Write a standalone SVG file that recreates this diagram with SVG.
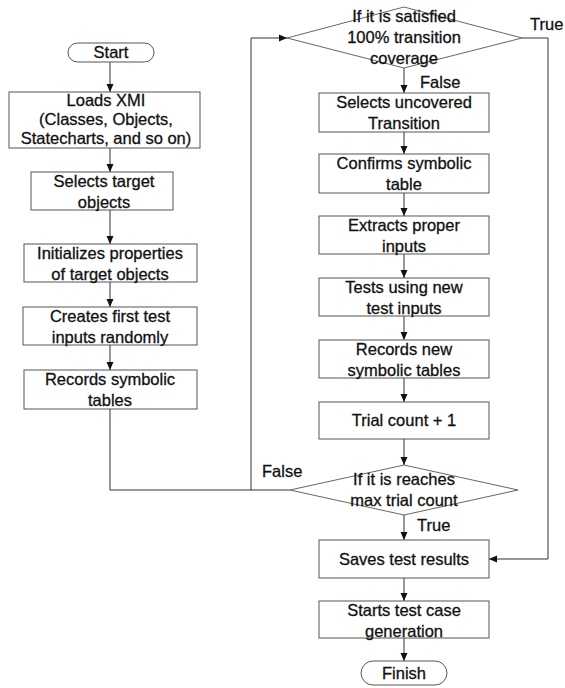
<svg xmlns="http://www.w3.org/2000/svg" width="565" height="688" viewBox="0 0 565 688">
<style>
text{font-family:"Liberation Sans",Arial,sans-serif;font-size:16.5px;fill:#111;stroke:#111;stroke-width:0.3;text-anchor:middle}
.lbl{text-anchor:start}
.box{fill:#fff;stroke:#555;stroke-width:1}
.dia{fill:#fff;stroke:#666;stroke-width:1}
.con{fill:none;stroke:#333;stroke-width:1}
</style>
<defs>
<marker id="arr" markerUnits="userSpaceOnUse" markerWidth="8" markerHeight="8" refX="8" refY="4" orient="auto">
<path d="M0,0.5 L8,4 L0,7.5 z" fill="#111"/>
</marker>
</defs>
<rect width="565" height="688" fill="#fff"/>
<g id="connectors">
<path class="con" d="M110,62 V92" marker-end="url(#arr)"/>
<path class="con" d="M110,148 V172" marker-end="url(#arr)"/>
<path class="con" d="M110,210 V244" marker-end="url(#arr)"/>
<path class="con" d="M110,282 V307" marker-end="url(#arr)"/>
<path class="con" d="M110,345 V370" marker-end="url(#arr)"/>
<path class="con" d="M110,409 V490 H290"/>
<path class="con" d="M251,490 V38 H287" marker-end="url(#arr)"/>
<path class="con" d="M404,68 V93" marker-end="url(#arr)"/>
<path class="con" d="M404,132 V154" marker-end="url(#arr)"/>
<path class="con" d="M404,193 V216" marker-end="url(#arr)"/>
<path class="con" d="M404,254 V278" marker-end="url(#arr)"/>
<path class="con" d="M404,316 V340" marker-end="url(#arr)"/>
<path class="con" d="M404,378 V402" marker-end="url(#arr)"/>
<path class="con" d="M404,439 V465" marker-end="url(#arr)"/>
<path class="con" d="M404,515 V540" marker-end="url(#arr)"/>
<path class="con" d="M404,578 V601" marker-end="url(#arr)"/>
<path class="con" d="M404,638 V661" marker-end="url(#arr)"/>
<path class="con" d="M522,38 H548 V559 H489" marker-end="url(#arr)"/>
<text class="lbl" x="530" y="30">True</text>
<text class="lbl" x="420" y="88">False</text>
<text class="lbl" x="262" y="477">False</text>
<text class="lbl" x="417" y="531">True</text>
</g>
<g id="start"><rect class="box" x="68" y="43" width="86" height="19" rx="9.5"/><text x="111" y="58">Start</text></g>
<g id="loads"><rect class="box" x="9" y="92" width="191" height="56"/><text x="106" y="106">Loads XMI</text><text x="106" y="125">(Classes, Objects,</text><text x="106" y="144">Statecharts, and so on)</text></g>
<g id="selects-target"><rect class="box" x="31" y="172" width="142" height="38"/><text x="104" y="187">Selects target</text><text x="104" y="208">objects</text></g>
<g id="initializes"><rect class="box" x="24" y="244" width="173" height="38"/><text x="110" y="259">Initializes properties</text><text x="110" y="280">of target objects</text></g>
<g id="creates"><rect class="box" x="23" y="307" width="174" height="38"/><text x="110" y="322">Creates first test</text><text x="110" y="343">inputs randomly</text></g>
<g id="records-symbolic"><rect class="box" x="24" y="370" width="173" height="39"/><text x="110" y="385">Records symbolic</text><text x="110" y="406">tables</text></g>
<g id="coverage-check"><polygon class="dia" points="287,38 404,7 522,38 404,68"/><text x="404" y="22">If it is satisfied</text><text x="404" y="43">100% transition</text><text x="404" y="64">coverage</text></g>
<g id="selects-uncovered"><rect class="box" x="319" y="93" width="170" height="39"/><text x="404" y="108">Selects uncovered</text><text x="404" y="129">Transition</text></g>
<g id="confirms"><rect class="box" x="319" y="154" width="170" height="39"/><text x="404" y="169">Confirms symbolic</text><text x="404" y="190">table</text></g>
<g id="extracts"><rect class="box" x="319" y="216" width="170" height="38"/><text x="404" y="231">Extracts proper</text><text x="404" y="252">inputs</text></g>
<g id="tests"><rect class="box" x="319" y="278" width="170" height="38"/><text x="404" y="293">Tests using new</text><text x="404" y="314">test inputs</text></g>
<g id="records-new"><rect class="box" x="319" y="340" width="170" height="38"/><text x="404" y="355">Records new</text><text x="404" y="376">symbolic tables</text></g>
<g id="trial-count"><rect class="box" x="319" y="402" width="170" height="37"/><text x="404" y="426">Trial count + 1</text></g>
<g id="max-check"><polygon class="dia" points="290,490 404,465 518,490 404,515"/><text x="404" y="485">If it is reaches</text><text x="404" y="506">max trial count</text></g>
<g id="saves"><rect class="box" x="319" y="540" width="170" height="38"/><text x="404" y="565">Saves test results</text></g>
<g id="starts"><rect class="box" x="319" y="601" width="170" height="37"/><text x="404" y="616">Starts test case</text><text x="404" y="637">generation</text></g>
<g id="finish"><rect class="box" x="361" y="661" width="86" height="24" rx="12"/><text x="404" y="679">Finish</text></g>
</svg>
